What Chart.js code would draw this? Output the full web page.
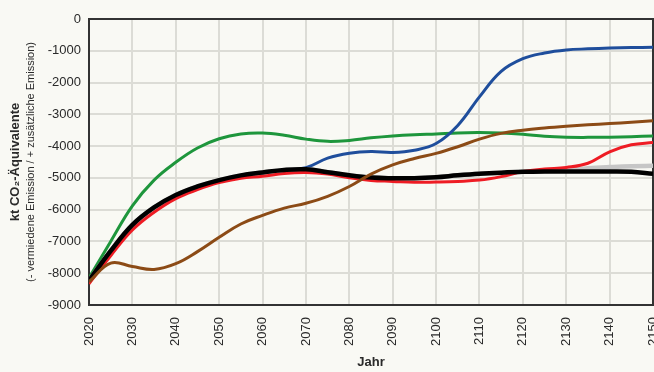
<!DOCTYPE html>
<html lang="de">
<head>
<meta charset="utf-8">
<title>kt CO₂-Äquivalente 2020–2150</title>
<script src="https://cdn.jsdelivr.net/npm/chart.js@4.4.1/dist/chart.umd.min.js"></script>
<style>
  html, body { margin: 0; padding: 0; background: #f9f9f4; overflow: hidden; }
  #wrap { position: relative; width: 654px; height: 372px; }
  canvas { display: block; }
</style>
</head>
<body>
<div id="wrap"><canvas id="c" width="654" height="372"></canvas></div>
<script>
// Years sampled along each scenario curve
const years = [2020, 2025, 2030, 2035, 2040, 2045, 2050, 2055, 2060, 2065, 2070, 2075, 2080, 2085,
               2090, 2095, 2100, 2105, 2110, 2115, 2120, 2125, 2130, 2135, 2140, 2145, 2150];

// Scenario values in kt CO2-equivalents
const greenValues = [-8150, -7000, -5880, -5070, -4510, -4060, -3770, -3620, -3590, -3660, -3780, -3850, -3820, -3740,
                     -3680, -3640, -3615, -3585, -3575, -3590, -3630, -3690, -3720, -3725, -3720, -3705, -3680];
const blueValues  = [-8230, -7300, -6480, -5930, -5540, -5270, -5070, -4920, -4830, -4750, -4680, -4380, -4225, -4170,
                     -4200, -4130, -3920, -3350, -2450, -1650, -1250, -1070, -975, -940, -915, -900, -890];
const brownValues = [-8270, -7680, -7790, -7880, -7700, -7320, -6870, -6450, -6180, -5950, -5800, -5580, -5270, -4880,
                     -4590, -4390, -4230, -4020, -3780, -3600, -3500, -3430, -3375, -3330, -3290, -3250, -3200];
const redValues   = [-8330, -7450, -6640, -6080, -5650, -5370, -5150, -5010, -4950, -4860, -4830, -4880, -5000, -5080,
                     -5110, -5140, -5130, -5110, -5070, -4960, -4800, -4720, -4670, -4540, -4180, -3960, -3890];
const blackValues = [-8230, -7300, -6480, -5930, -5540, -5270, -5070, -4920, -4830, -4750, -4730, -4820, -4920, -4990,
                     -5010, -5010, -4980, -4920, -4870, -4835, -4810, -4800, -4800, -4800, -4800, -4810, -4870];
const greyValues  = [-8230, -7300, -6480, -5930, -5540, -5270, -5070, -4920, -4830, -4750, -4730, -4820, -4920, -4990,
                     -5010, -5010, -4980, -4920, -4870, -4835, -4810, -4790, -4760, -4700, -4660, -4630, -4620];

// Axis ticks
const yearTicks = [2020, 2030, 2040, 2050, 2060, 2070, 2080, 2090, 2100, 2110, 2120, 2130, 2140, 2150];
const valueTicks = [0, -1000, -2000, -3000, -4000, -5000, -6000, -7000, -8000, -9000];

const yTitle = 'kt CO₂-Äquivalente';
const ySubtitle = '(- vermiedene Emission / + zusätzliche Emission)';
const xTitle = 'Jahr';

const FONT = "'Liberation Sans', Arial, sans-serif";
const TEXT = '#2a2a2a';

const points = vals => years.map((x, i) => ({ x, y: vals[i] }));

function series(vals, color, width) {
  return {
    data: points(vals),
    borderColor: color,
    borderWidth: width,
    pointRadius: 0,
    tension: 0.4,
    fill: false
  };
}

// Full frame around the plot and the small y subtitle
const framePlugin = {
  id: 'frame',
  beforeDatasetsDraw(chart) {
    const { ctx, chartArea: a } = chart;
    ctx.save();
    ctx.strokeStyle = '#333';
    ctx.lineWidth = 2;
    ctx.strokeRect(a.left, a.top, a.right - a.left, a.bottom - a.top);
    ctx.restore();
  },
  afterDraw(chart) {
    const { ctx, chartArea: a } = chart;
    ctx.save();
    ctx.translate(31, (a.top + a.bottom) / 2);
    ctx.rotate(-Math.PI / 2);
    ctx.font = '11px ' + FONT;
    ctx.fillStyle = TEXT;
    ctx.textAlign = 'center';
    ctx.textBaseline = 'middle';
    ctx.fillText(ySubtitle, 0, 0);
    ctx.restore();
  }
};

new Chart(document.getElementById('c'), {
  type: 'line',
  data: {
    datasets: [
      series(brownValues, '#8c4b16', 3),
      series(blackValues, '#000000', 4.5),
      series(redValues, '#ee1c24', 3),
      series(greyValues, '#c6c6c6', 4.5),
      series(blueValues, '#1f4e9c', 3),
      series(greenValues, '#1e963c', 3)
    ]
  },
  options: {
    responsive: false,
    animation: false,
    events: [],
    layout: { padding: { top: 19, right: 1, left: 0, bottom: 0 } },
    plugins: { legend: { display: false }, tooltip: { enabled: false } },
    scales: {
      x: {
        type: 'linear',
        min: 2020,
        max: 2150,
        afterBuildTicks: s => { s.ticks = yearTicks.map(v => ({ value: v })); },
        afterFit: s => { s.height = 67; s.paddingLeft = 0; s.paddingRight = 0; },
        ticks: {
          minRotation: 90, maxRotation: 90, autoSkip: false,
          padding: 12, color: TEXT,
          font: { family: FONT, size: 13 },
          callback: v => String(v)
        },
        grid: { color: '#dcdcd6', lineWidth: 2, drawTicks: false },
        border: { display: true, color: '#333', width: 2 },
        title: {
          display: true, text: xTitle, color: TEXT,
          font: { family: FONT, size: 13, weight: 'bold' },
          padding: { top: 0, bottom: 2 }
        }
      },
      y: {
        min: -9000,
        max: 0,
        afterBuildTicks: s => { s.ticks = valueTicks.slice().reverse().map(v => ({ value: v })); },
        afterFit: s => { s.width = 89; s.paddingTop = 0; s.paddingBottom = 0; },
        ticks: {
          padding: 8, color: TEXT,
          font: { family: FONT, size: 13 },
          callback: v => String(v)
        },
        grid: { color: '#dcdcd6', lineWidth: 2, drawTicks: false },
        border: { display: true, color: '#333', width: 2 },
        title: {
          display: true, text: yTitle, color: TEXT,
          font: { family: FONT, size: 13, weight: 'bold' },
          padding: { top: 8, bottom: 0 }
        }
      }
    }
  },
  plugins: [framePlugin]
});
</script>
</body>
</html>
